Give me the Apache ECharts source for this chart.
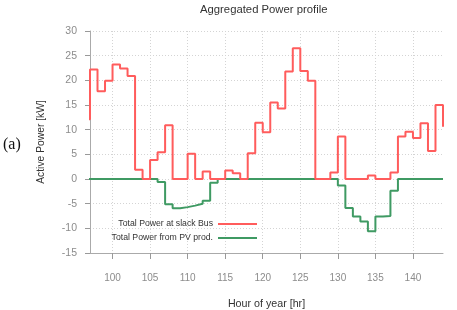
<!DOCTYPE html>
<html>
<head>
<meta charset="utf-8">
<script src="https://cdn.jsdelivr.net/npm/echarts@6/dist/echarts.min.js"></script>
<style>html,body{margin:0;padding:0;background:#fff;}#c{width:457px;height:310px;}</style>
</head>
<body>
<div id="c"></div>
<script>
// Hours of year (each value holds from hour h to h+1)
const hours = [96,97,98,99,100,101,102,103,104,105,106,107,108,109,110,111,112,113,114,115,116,117,118,119,120,121,122,123,124,125,126,127,128,129,130,131,132,133,134,135,136,137,138,139,140,141,142,143,144];
const slackBus = [12.1,22.2,17.8,19.9,23.2,22.4,20.9,1.9,0,3.85,5.4,10.9,0,0,5.1,0,1.5,0,0,1.7,1.15,0,5.2,11.4,9.5,15.5,14.3,21.8,26.5,21.9,19.9,0,0,1.3,8.6,0,0,0,0.7,0,0,1.3,8.6,9.6,8.3,11.3,5.7,15.0,10.6];
const pvProd = [0,0,0,0,0,0,0,0,0,0,-0.6,-5.1,-5.95,-5.7,-5.4,-5.0,-4.4,-0.75,0,0,0,0,0,0,0,0,0,0,0,0,0,0,0,0,-1.3,-5.9,-7.6,-8.6,-10.6,-7.6,-7.5,-2.4,0,0,0,0,0,0,0];
const xTicks = [100,105,110,115,120,125,130,135,140];
const seriesNames = ['Total Power at slack Bus','Total Power from PV prod.'];

const chart = echarts.init(document.getElementById('c'), null, {renderer:'canvas'});
const font = 'Liberation Sans';
chart.setOption({
  animation:false,
  backgroundColor:'#fff',
  title:{text:'Aggregated Power profile',left:195,top:-1,
    textStyle:{fontFamily:font,fontSize:11.3,fontWeight:'normal',color:'#333'}},
  graphic:[{type:'text',left:3,top:137,style:{text:'(a)',fontFamily:'Liberation Serif',fontSize:16,fill:'#111'}}],
  grid:{left:90,right:14,top:31,bottom:57,containLabel:false,outerBoundsMode:'none'},
  legend:{orient:'vertical',align:'right',right:195,top:213,itemGap:2,itemWidth:39,itemHeight:2,icon:'rect',
    textStyle:{fontFamily:font,fontSize:8.7,color:'#333',lineHeight:12},
    data:seriesNames},
  xAxis:{type:'value',min:97,max:144,splitNumber:9,
    name:'Hour of year [hr]',nameLocation:'middle',nameGap:46,
    nameTextStyle:{fontFamily:font,fontSize:10.7,color:'#333'},
    axisLine:{show:true,onZero:false,lineStyle:{color:'#aaa',width:1}},
    axisTick:{show:true,inside:false,length:6,customValues:xTicks,lineStyle:{color:'#999',width:1}},
    axisLabel:{customValues:xTicks,margin:20,fontFamily:font,fontSize:10,color:'#8c8c8c'},
    splitLine:{show:true,lineStyle:{color:'#d4d4d4',type:[1,2],width:1}}},
  yAxis:{type:'value',min:-15,max:30,interval:5,
    name:'Active Power [kW]',nameLocation:'middle',nameGap:44,
    nameTextStyle:{fontFamily:font,fontSize:10.3,color:'#333'},
    axisLine:{show:true,onZero:false,lineStyle:{color:'#aaa',width:1}},
    axisTick:{show:true,length:5,lineStyle:{color:'#999'}},
    axisLabel:{margin:13,fontFamily:font,fontSize:10.5,color:'#8c8c8c'},
    splitLine:{show:true,lineStyle:{color:'#d4d4d4',type:[1,2],width:1}}},
  series:[
    {name:seriesNames[0],type:'line',step:'end',symbol:'none',clip:true,
     data:hours.map((h,i)=>[h,slackBus[i]]),
     lineStyle:{color:'#ff5c5c',width:2},itemStyle:{color:'#ff5c5c'},z:3},
    {name:seriesNames[1],type:'line',step:'end',symbol:'none',clip:true,
     data:hours.map((h,i)=>[h,pvProd[i]]),
     lineStyle:{color:'#3f9a63',width:2},itemStyle:{color:'#3f9a63'},z:2}
  ]
});
</script>
</body>
</html>
